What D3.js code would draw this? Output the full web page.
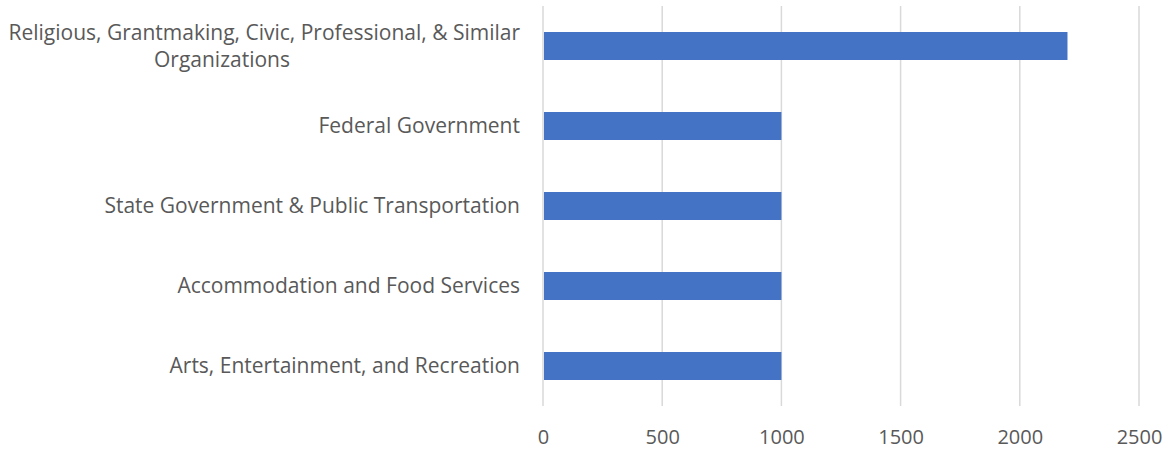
<!DOCTYPE html>
<meta charset="utf-8">
<head>
    <meta charset="utf-8">
    <title>bar chart</title>
    <script src="https://d3js.org/d3.v7.min.js" charset="utf-8"></script>
    <style>
        html, body {
            margin: 0;
            padding: 0;
            background: #fff;
        }
        text {
            font-family: "Open Sans", Lato, sans-serif;
            fill: #595959;
        }
        .grid line {
            stroke: #d9d9d9;
            stroke-width: 1.5px;
        }
        .bar {
            fill: #4472c4;
        }
    </style>
</head>
<body>
<svg width="1167" height="452"></svg>
<script>

// data
var categories = [
    "Religious, Grantmaking, Civic, Professional, & Similar Organizations",
    "Federal Government",
    "State Government & Public Transportation",
    "Accommodation and Food Services",
    "Arts, Entertainment, and Recreation"
];
var values = [2200, 1000, 1000, 1000, 1000];
var xTicks = [0, 500, 1000, 1500, 2000, 2500];

// wrapped label lines (as in the picture)
var labelLines = {
    "Religious, Grantmaking, Civic, Professional, & Similar Organizations":
        ["Religious, Grantmaking, Civic, Professional, & Similar", "Organizations"]
};

var svg = d3.select("svg"),
    margin = {top: 6, right: 28, bottom: 46, left: 543},
    width = +svg.attr("width") - margin.left - margin.right,
    height = +svg.attr("height") - margin.top - margin.bottom;

var x = d3.scaleLinear().domain([0, 2500]).range([0, width]);
var y = d3.scaleBand().domain(categories).range([0, height]).paddingInner(0.65).paddingOuter(0.325);

var g = svg.append("g")
    .attr("transform", "translate(" + margin.left + "," + margin.top + ")");

// gridlines
g.append("g")
    .attr("class", "grid")
    .selectAll("line")
    .data(xTicks)
    .join("line")
    .attr("x1", d => x(d))
    .attr("x2", d => x(d))
    .attr("y1", 0)
    .attr("y2", height);

// bars
g.selectAll(".bar")
    .data(categories)
    .join("rect")
    .attr("class", "bar")
    .attr("x", x(0) + 1)
    .attr("y", d => y(d))
    .attr("width", (d, i) => x(values[i]) - x(0) - 1)
    .attr("height", y.bandwidth());

// x axis labels
var xAxis = d3.axisBottom(x).tickValues(xTicks).tickFormat(d3.format("d")).tickSize(0).tickPadding(0);
var ax = g.append("g")
    .attr("transform", "translate(0," + height + ")")
    .call(xAxis);
ax.select(".domain").remove();
ax.selectAll("text")
    .attr("dy", null)
    .attr("y", 38)
    .style("font-size", "20px")
    .style("font-family", "'Open Sans', Lato, sans-serif")
    .attr("fill", "#595959");

// category labels
var lab = g.append("g").selectAll("text")
    .data(categories)
    .join("text")
    .attr("text-anchor", "end")
    .style("font-size", "21px")
    .attr("transform", d => "translate(-23," + (y(d) + y.bandwidth() / 2) + ")");

lab.each(function(d) {
    var lines = labelLines[d] || [d];
    var t = d3.select(this);
    lines.forEach(function(l, i) {
        t.append("tspan")
            .attr("x", i === 0 ? 0 : -230)
            .attr("y", (i - (lines.length - 1) / 2) * 27)
            .attr("dy", "0.35em")
            .text(l);
    });
});

</script>
</body>
</html>
